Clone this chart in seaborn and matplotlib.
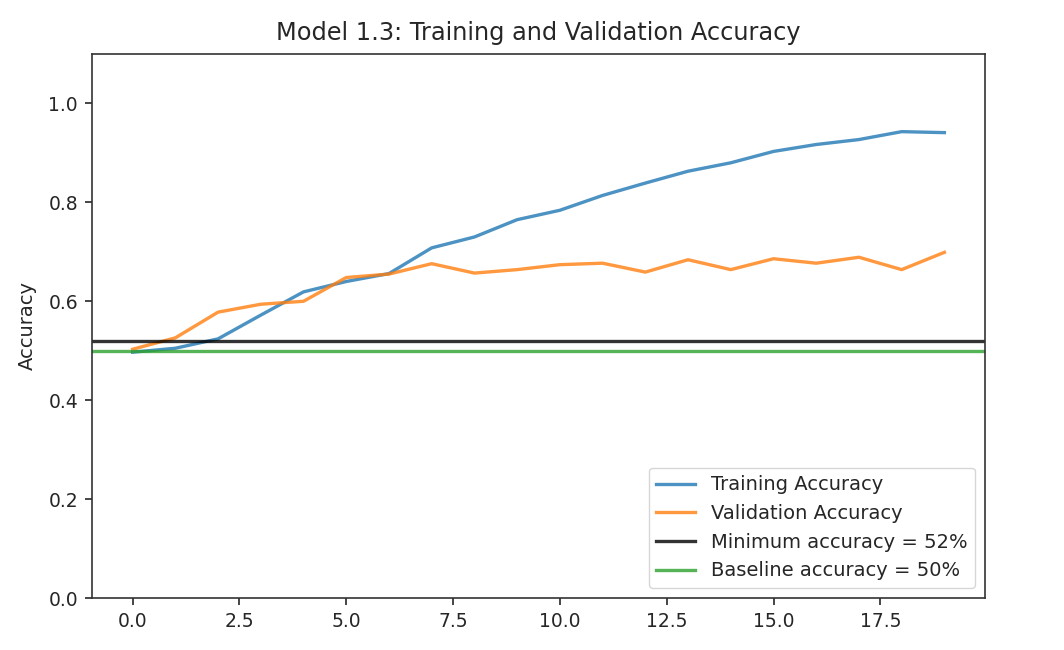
import matplotlib
matplotlib.use("Agg")
import matplotlib.pyplot as plt
import seaborn as sns
import pandas as pd

epochs = list(range(20))
training_acc = [0.497, 0.505, 0.524, 0.572, 0.619, 0.640, 0.656, 0.708, 0.730, 0.765,
                0.784, 0.814, 0.839, 0.863, 0.880, 0.903, 0.917, 0.927, 0.943, 0.941]
validation_acc = [0.503, 0.526, 0.578, 0.594, 0.600, 0.648, 0.655, 0.676, 0.657, 0.664,
                  0.674, 0.677, 0.659, 0.684, 0.664, 0.686, 0.677, 0.689, 0.664, 0.699]
minimum_acc = 0.52
baseline_acc = 0.50

plt.rcParams['font.family'] = ['DejaVu Sans']
plt.rcParams['text.color'] = '#262626'
plt.rcParams['xtick.color'] = '#262626'
plt.rcParams['ytick.color'] = '#262626'
plt.rcParams['axes.labelcolor'] = '#262626'

fig = plt.figure(figsize=(10.64, 6.5), dpi=100)
ax = fig.add_axes([92 / 1064, 1 - 598 / 650, (985 - 92) / 1064, (598 - 54) / 650])

df = pd.DataFrame({"epoch": epochs, "train": training_acc, "val": validation_acc})
sns.lineplot(data=df, x="epoch", y="train", ax=ax, color="tab:blue", alpha=0.8,
             linewidth=2.4, label="Training Accuracy")
sns.lineplot(data=df, x="epoch", y="val", ax=ax, color="tab:orange", alpha=0.8,
             linewidth=2.4, label="Validation Accuracy")
ax.axhline(minimum_acc, color="black", alpha=0.8, linewidth=2.4, label="Minimum accuracy = 52%")
ax.axhline(baseline_acc, color="tab:green", alpha=0.8, linewidth=2.4, label="Baseline accuracy = 50%")

ax.set_ylim(0, 1.1)
ax.set_xlim(-0.95, 19.95)
ax.set_xticks([0, 2.5, 5, 7.5, 10, 12.5, 15, 17.5])
ax.set_xticklabels(["0.0", "2.5", "5.0", "7.5", "10.0", "12.5", "15.0", "17.5"])
ax.set_yticks([0, 0.2, 0.4, 0.6, 0.8, 1.0])
ax.set_yticklabels(["0.0", "0.2", "0.4", "0.6", "0.8", "1.0"])
ax.tick_params(labelsize=13.5, length=5, width=1.2, pad=5)
for s in ax.spines.values():
    s.set_linewidth(1.2)
    s.set_color("#333333")
ax.set_xlabel("")
ax.set_ylabel("Accuracy", fontsize=14, labelpad=8)
ax.set_title("Model 1.3: Training and Validation Accuracy", fontsize=17.3, pad=10)
ax.legend(loc="lower right", fontsize=14, handlelength=2.0)

fig.savefig("out.png", dpi=100)
